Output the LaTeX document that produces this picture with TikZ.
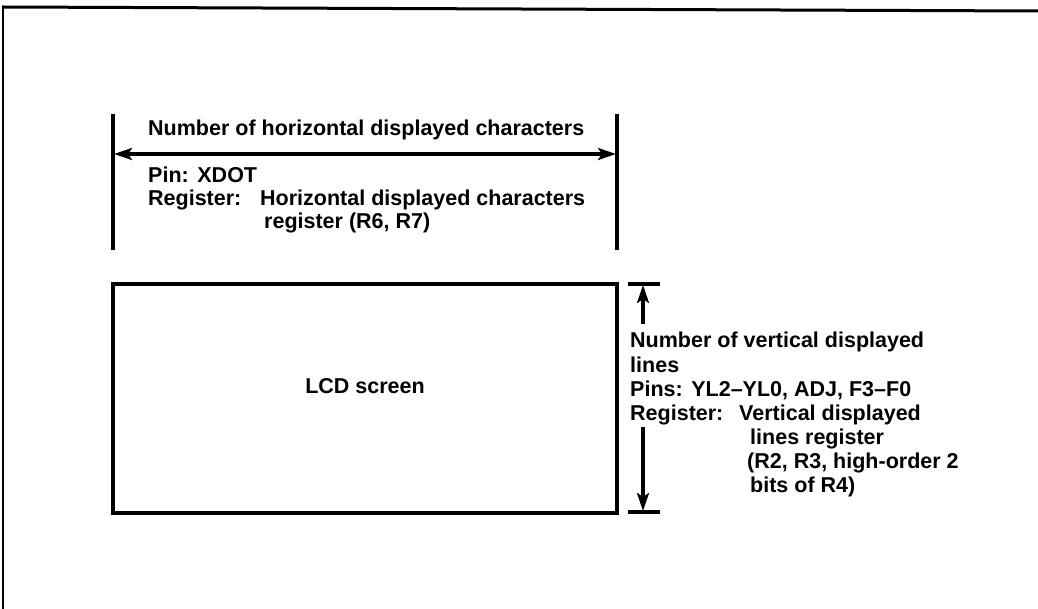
\documentclass[tikz,border=0pt]{standalone}
\usepackage{fontspec}
\setmainfont{Liberation Sans}
\usetikzlibrary{arrows.meta}
\tikzset{hd/.tip={Stealth[length=18pt,width=12pt,inset=4pt]}}
\begin{document}
\begin{tikzpicture}[x=1pt,y=-1pt,
  txt/.style={anchor=base west,inner sep=0pt,font=\fontsize{21.5}{23.5}\bfseries\selectfont},
  dim/.style={line width=3.2pt},
  box/.style={draw,line width=3.4pt}]
\useasboundingbox (0,0) rectangle (1038,609);
% frame
\draw[line width=3pt] (2,7) -- (1038,11);
\draw[line width=1.5pt] (3,7) -- (3,609);
% horizontal dimension
\coordinate (hl1) at (113,114);
\coordinate (hl2) at (113,250);
\coordinate (hr1) at (617,114);
\coordinate (hr2) at (617,250);
\draw[dim] (hl1) -- (hl2);
\draw[dim] (hr1) -- (hr2);
\coordinate (ha) at (114,154);
\coordinate (hb) at (616,154);
\draw[dim,hd-hd] (ha) -- (hb);
\node[txt] (htitle) at (148,136) {Number of horizontal displayed characters};
\node[txt] (hpin) at (148,183) {Pin:\hspace{0.4em}XDOT};
\node[txt] (hreg) at (148,206) {Register:};
\node[txt] (hreg2) at (260,206) {Horizontal displayed characters};
\node[txt] (hreg3) at (264,229) {register (R6, R7)};
% LCD screen
\node[box,minimum width=504pt,minimum height=229pt,inner sep=0pt] (lcd) at (365,398.5) {};
\node[txt,anchor=base] (lcdt) at (365,393) {LCD screen};
% vertical dimension
\coordinate (vt1) at (628,284);
\coordinate (vt2) at (660,284);
\coordinate (vb1) at (628,512);
\coordinate (vb2) at (660,512);
\draw[dim] (vt1) -- (vt2);
\draw[dim] (vb1) -- (vb2);
\coordinate (va1) at (643,324);
\coordinate (va2) at (643,285);
\coordinate (vb3) at (643,427);
\coordinate (vb4) at (643,511);
\draw[dim,-hd] (va1) -- (va2);
\draw[dim,-hd] (vb3) -- (vb4);
\node[txt] (v1) at (630,348) {Number of vertical displayed};
\node[txt] (v2) at (630,372) {lines};
\node[txt] (v3) at (630,396) {Pins:\hspace{0.4em}YL2–YL0, ADJ, F3–F0};
\node[txt] (v4) at (630,420) {Register:};
\node[txt] (v5) at (739,420) {Vertical displayed};
\node[txt] (v6) at (750,444) {lines register};
\node[txt] (v7) at (747,468) {(R2, R3, high-order 2};
\node[txt] (v8) at (750,492) {bits of R4)};
\end{tikzpicture}
\end{document}
